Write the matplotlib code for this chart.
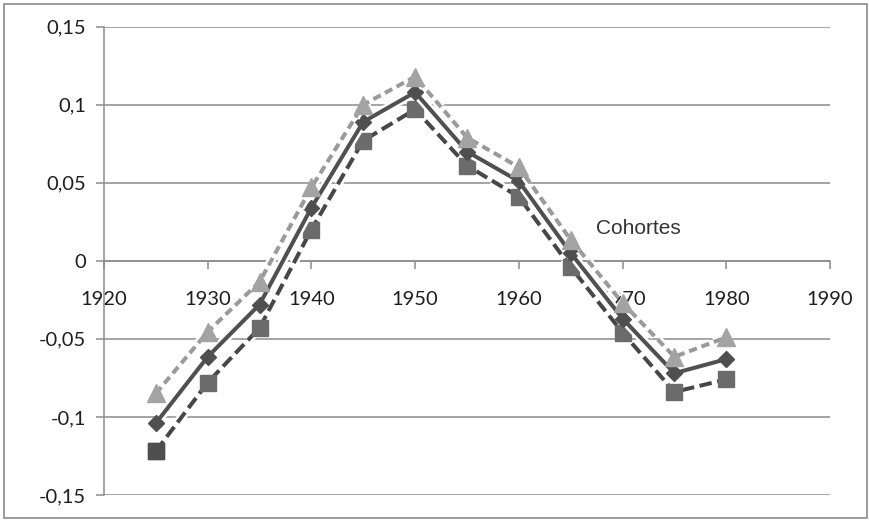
import matplotlib
matplotlib.use("Agg")
import matplotlib.pyplot as plt
import matplotlib.patheffects as pe
from matplotlib.ticker import FuncFormatter

# cohort years and the three series
years = [1925, 1930, 1935, 1940, 1945, 1950, 1955, 1960, 1965, 1970, 1975, 1980]
tri_vals = [-0.085, -0.0455, -0.0135, 0.047, 0.100, 0.118, 0.079, 0.060, 0.0135, -0.027, -0.0615, -0.049]
dia_vals = [-0.104, -0.0615, -0.028, 0.034, 0.089, 0.108, 0.070, 0.051, 0.005, -0.037, -0.072, -0.063]
sq_vals = [-0.122, -0.078, -0.043, 0.020, 0.077, 0.097, 0.061, 0.041, -0.004, -0.046, -0.084, -0.076]

y_ticks = [-0.15, -0.1, -0.05, 0, 0.05, 0.1, 0.15]
x_ticks = [1920, 1930, 1940, 1950, 1960, 1970, 1980, 1990]
label = "Cohortes"

plt.rcParams['font.family'] = ['Lato', 'DejaVu Sans']
plt.rcParams['lines.scale_dashes'] = False

fig = plt.figure(figsize=(8.7, 5.21), dpi=100)
fig.patches.append(plt.Rectangle((0.005, 0.006), 0.992, 0.986, transform=fig.transFigure,
                                 fill=False, edgecolor='#8a8a8a', linewidth=1.2))
ax = fig.add_axes([0.1195, 0.050, 0.8345, 0.8988])

halo = [pe.Stroke(linewidth=6.5, foreground='white'), pe.Normal()]

ax.plot(years, sq_vals, color='#474747', lw=2.9, dashes=(9, 4), path_effects=halo, zorder=3)
ax.plot(years, sq_vals, ls='none', marker='s', ms=12, color='#6b6b6b', zorder=4)
ax.plot(years[:1], sq_vals[:1], ls='none', marker='s', ms=12, color='#4e4e4e', zorder=4)

ax.plot(years, dia_vals, color='#505050', lw=2.9, path_effects=halo, zorder=5)
ax.plot(years, dia_vals, ls='none', marker='D', ms=8.5, color='#4f4f4f', zorder=6)

ax.plot(years, tri_vals, color='#9a9a9a', lw=2.9, dashes=(6, 3.5), path_effects=halo, zorder=7)
ax.plot(years, tri_vals, ls='none', marker='^', ms=13, color='#a3a3a3', zorder=8)

ax.set_xlim(1920, 1990)
ax.set_ylim(-0.15, 0.15)
ax.set_yticks(y_ticks)
ax.set_xticks(x_ticks)
ax.yaxis.set_major_formatter(FuncFormatter(lambda v, p: ('%g' % round(v, 2)).replace('.', ',')))
ax.xaxis.set_major_formatter(FuncFormatter(lambda v, p: '%d' % v))

ax.grid(axis='y', color='#8c8c8c', lw=1.1)
ax.set_axisbelow(True)
for s in ['top', 'right']:
    ax.spines[s].set_visible(False)
ax.spines['bottom'].set_position(('data', 0))
ax.spines['bottom'].set_color('#8c8c8c')
ax.spines['left'].set_color('#8c8c8c')
ax.spines['bottom'].set_linewidth(1.1)
ax.spines['left'].set_linewidth(1.1)
ax.tick_params(axis='y', length=6, width=1.1, color='#8c8c8c', labelsize=14.5, labelcolor='#1e1e1e', pad=7)
ax.tick_params(axis='x', length=6, width=1.1, color='#8c8c8c', labelsize=14.5, labelcolor='#1e1e1e', pad=16)

ax.text(1967.4, 0.021, label, fontsize=15, color='#333333', family=['Liberation Sans', 'DejaVu Sans'],
        va='center', ha='left')

fig.savefig('out.png', dpi=100)
